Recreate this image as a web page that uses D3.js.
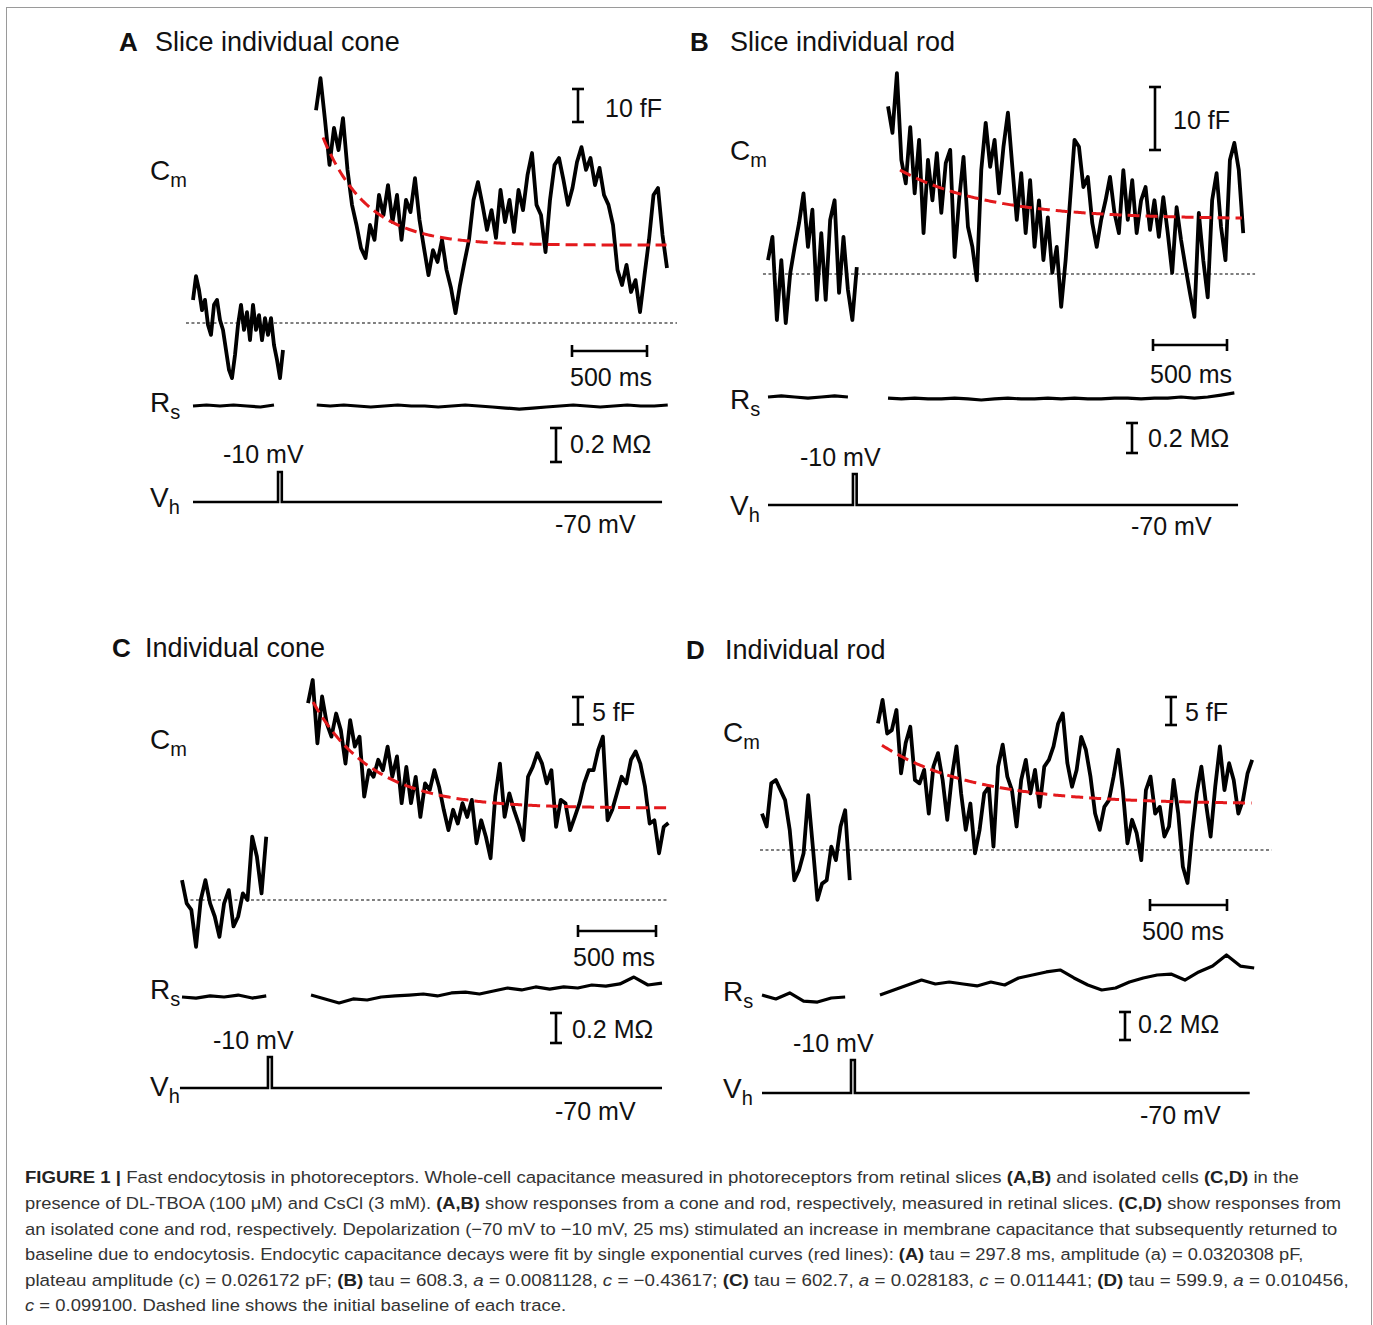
<!DOCTYPE html>
<html>
<head>
<meta charset="utf-8">
<script src="https://cdn.jsdelivr.net/npm/d3@7"></script>
<style>
  body { margin: 0; background: #fff; }
  svg text { font-family: "Liberation Sans", Arial, sans-serif; fill: #111; }
</style>
</head>
<body>
<svg id="fig" width="1373" height="1325"></svg>
<script>
// ---- panel labels ----
const panelLetters = ["A", "B", "C", "D"];
const panelTitles = ["Slice individual cone", "Slice individual rod", "Individual cone", "Individual rod"];
const cmBarFF = [10, 10, 5, 5];
const timeBarMs = 500;
const rsBarMOhm = 0.2;
const holdMV = -70, stepMV = -10, pulseMs = 25;
const pulseStartMs = [567, 574, 551, 578];

// ---- Cm traces (fF relative to initial baseline) ----
const cmPreStartMs = [0, 0, 0, 0];
const cmPreDtMs = [20, 30, 30, 30];
const cmPostStartMs = [820, 811, 808, 753];
const cmPostDtMs = 30;

const aCmPre = [7, 14.2, 10, 3.9, 7, -0.6, -3.6, 5.5, 7, 0.9, -2.1, -8.2, -14.2, -16.7, -9.7, -0.6, 5.5, -2.1, 3.3, -5.2, 5.5, -2.1, 2.4, -5.2, 1.5, -3.6, 1.5, -6.7, -11.2, -16.7, -8.2];
const aCmPost = [64.5, 74.2, 61.5, 47.9, 59.1, 52.4, 62.1, 46.4, 35.8, 29.7, 22.7, 19.7, 29.7, 25.2, 38.8, 32.7, 41.8, 30.6, 38.8, 25.2, 37.3, 33.6, 43.9, 31.2, 22.7, 14.5, 22.1, 18.5, 25.2, 16.1, 10.6, 3.0, 11.5, 18.5, 25.2, 37.3, 42.7, 35.8, 28.2, 34.2, 25.8, 40.3, 30.6, 37.3, 27.6, 40.3, 34.2, 44.8, 51.5, 35.8, 32.7, 21.5, 37.3, 47.9, 50.0, 43.3, 35.8, 40.9, 48.8, 53.3, 46.4, 50.0, 41.8, 47.0, 38.8, 35.8, 29.7, 16.1, 11.5, 17.6, 9.4, 13.0, 3.3, 14.5, 25.2, 38.8, 40.9, 26.7, 16.7];

const bCmPre = [2.2, 5.9, -7.3, 2.2, -7.8, 0.1, 4.3, 8.1, 12.8, 4.3, 10.2, -4.1, 6.5, -4.1, 8.6, 11.7, -3.0, 5.9, -2.5, -7.3, 1.1];
const bCmPost = [26.6, 22.4, 31.9, 18.1, 14.4, 23.3, 12.8, 21.3, 6.5, 18.1, 11.7, 19.2, 9.7, 17.6, 19.7, 2.7, 11.7, 18.6, 7.5, 4.3, -1.0, 16.5, 24.0, 17.0, 21.3, 12.8, 20.2, 25.6, 17.0, 8.6, 16.0, 6.5, 14.9, 4.3, 11.7, 2.2, 9.0, 0.2, 4.3, -5.2, 2.2, 11.7, 21.3, 20.2, 13.8, 15.4, 8.1, 4.3, 8.6, 11.7, 15.4, 9.7, 6.5, 16.5, 8.6, 14.9, 6.5, 11.7, 13.8, 7.0, 11.7, 5.9, 12.2, 6.5, 0.2, 10.6, 5.4, 1.1, -3.0, -6.8, 9.7, 2.2, -3.7, 11.7, 16.0, 7.5, 2.2, 18.1, 20.8, 16.5, 6.5];

const cCmPre = [3.6, -0.6, -1.8, -8.5, 0, 3.6, -0.6, -3.0, -6.7, -0.6, 1.8, -4.8, -3.0, 1.2, 0, 11.5, 7.9, 1.2, 11.5];
const cCmPost = [35.8, 40, 28.5, 37.0, 32.1, 29.7, 33.9, 30.9, 24.8, 32.7, 27.9, 29.7, 18.8, 23.6, 22.4, 25.5, 23.6, 27.9, 22.4, 26.1, 17.6, 24.2, 17.6, 22.4, 15.1, 21.2, 20.0, 23.6, 20.6, 16.4, 12.7, 16.4, 13.9, 17.6, 15.1, 18.2, 10.3, 14.5, 11.5, 7.6, 18.8, 24.8, 15.1, 19.4, 16.4, 13.9, 10.9, 22.4, 24.2, 26.7, 24.8, 21.2, 23.6, 13.3, 18.2, 17.6, 12.7, 15.1, 17.6, 21.2, 23.6, 23.6, 27.3, 29.7, 14.5, 16.4, 19.4, 22.4, 21.2, 25.5, 27.0, 24.8, 20.6, 13.9, 14.5, 8.5, 13.3, 14.0];

const dCmPre = [6.5, 4.2, 11.9, 12.5, 10.7, 8.9, 3.6, -5.4, -3.6, -0.6, 9.8, 0.6, -8.9, -6.0, -5.4, 0.6, -1.8, 4.2, 7.1, -5.4];
const dCmPost = [22.6, 26.8, 20.8, 21.4, 25.0, 13.7, 19.1, 22.0, 12.5, 11.9, 14.3, 6.5, 14.9, 17.3, 12.5, 5.4, 13.1, 18.5, 10.1, 3.6, 8.3, -0.6, 3.6, 10.1, 11.3, 0.6, 14.9, 18.8, 13.1, 10.7, 4.2, 12.5, 16.1, 10.1, 14.3, 7.7, 14.9, 16.1, 18.5, 22.6, 24.4, 15.5, 11.3, 14.3, 20.2, 17.9, 13.1, 6.5, 3.6, 7.7, 8.9, 13.1, 17.9, 10.7, 1.2, 5.4, 3.0, -1.8, 10.7, 13.1, 6.5, 7.7, 2.4, 4.2, 12.5, 6.5, -3.0, -5.9, 3.0, 10.1, 14.9, 8.3, 2.4, 11.3, 18.5, 10.7, 15.5, 12.5, 6.5, 8.9, 13.7, 16.1];

// ---- exponential fits (red dashed) ----
const fitStartMs = [867, 892, 840, 779];
const fitTauMs = [297.8, 608.3, 385, 599.9];
const fitAmpFF = [32.6, 7.8, 19.3, 10.5];
const fitPlateauFF = [23.6, 8.7, 16.7, 8.2];

// ---- Rs traces (MOhm relative) ----
const rsDtMs = 90;
const rsPreStartMs = [0, 0, 0, 0];
const rsPostStartMs = [825, 811, 827, 766];
const aRsPre = [0, 0.006, 0, 0.006, 0, -0.006, 0.006];
const aRsPost = [0.006, 0, 0.006, 0, -0.006, 0, 0.006, 0, 0, -0.006, 0, 0.006, 0, -0.006, -0.012, -0.018, -0.012, -0.006, 0, 0.006, 0, -0.006, 0, 0.006, 0, 0, 0.006];
const bRsPre = [0, 0.007, 0, -0.007, 0, 0.007, 0];
const bRsPost = [-0.007, -0.013, -0.007, -0.013, -0.013, -0.007, -0.013, -0.02, -0.013, -0.007, -0.013, -0.013, -0.007, -0.013, -0.007, -0.013, -0.013, -0.007, -0.007, -0.013, -0.007, -0.007, 0, -0.007, 0, 0.013, 0.027];
const cRsPre = [0, -0.007, 0.007, 0, 0.013, -0.007, 0.007];
const cRsPost = [0.013, -0.013, -0.040, -0.013, -0.020, 0, 0.007, 0.013, 0.020, 0.007, 0.027, 0.033, 0.020, 0.040, 0.060, 0.047, 0.067, 0.053, 0.067, 0.060, 0.080, 0.073, 0.087, 0.133, 0.080, 0.093];
const dRsPre = [0.014, -0.014, 0.029, -0.029, -0.036, -0.007, 0];
const dRsPost = [0.014, 0.05, 0.086, 0.121, 0.093, 0.107, 0.093, 0.079, 0.107, 0.086, 0.136, 0.157, 0.179, 0.193, 0.136, 0.086, 0.05, 0.064, 0.107, 0.136, 0.157, 0.164, 0.121, 0.179, 0.221, 0.3, 0.221, 0.207];

// time extents of the holding-potential line and dotted baseline
const vhSpanMs = [[0, 3127], [0, 3176], [-13, 3077], [0, 3167]];
const baseSpanMs = [[-47, 3227], [-34, 3291], [19, 3115], [-13, 3310]];

const cmPre = [aCmPre, bCmPre, cCmPre, dCmPre];
const cmPost = [aCmPost, bCmPost, cCmPost, dCmPost];
const rsPre = [aRsPre, bRsPre, cRsPre, dRsPre];
const rsPost = [aRsPost, bRsPost, cRsPost, dRsPost];

// ---- layout (pixels) ----
const layout = [
  { x0: 193, msPx: 500 / 75, cmBase: 323, fFpx: 3.3, rsBase: 406, rsPx: 170, vhBase: 502, vhTop: 472,
    letter: [119, 51], title: [155, 51], cm: [150, 180], rs: [150, 412], vh: [150, 507],
    cmBar: [578, 89], cmBarText: [605, 117], tBar: [572, 351], tBarText: [611, 386],
    rsBar: [556, 428], rsBarText: [570, 453], stepText: [223, 463], holdText: [555, 533] },
  { x0: 768, msPx: 500 / 74, cmBase: 274, fFpx: 6.3, rsBase: 397, rsPx: 150, vhBase: 505, vhTop: 474,
    letter: [690, 51], title: [730, 51], cm: [730, 160], rs: [730, 409], vh: [730, 515],
    cmBar: [1155, 87], cmBarText: [1173, 129], tBar: [1153, 345], tBarText: [1191, 383],
    rsBar: [1132, 423], rsBarText: [1148, 447], stepText: [800, 466], holdText: [1131, 535] },
  { x0: 182, msPx: 500 / 78, cmBase: 900, fFpx: 5.5, rsBase: 997, rsPx: 150, vhBase: 1088, vhTop: 1057,
    letter: [112, 657], title: [145, 657], cm: [150, 749], rs: [150, 999], vh: [150, 1096],
    cmBar: [578, 697], cmBarText: [592, 721], tBar: [578, 931], tBarText: [614, 966],
    rsBar: [556, 1013], rsBarText: [572, 1038], stepText: [213, 1049], holdText: [555, 1120] },
  { x0: 762, msPx: 500 / 77, cmBase: 850, fFpx: 5.6, rsBase: 997, rsPx: 140, vhBase: 1093, vhTop: 1060,
    letter: [686, 659], title: [725, 659], cm: [723, 742], rs: [723, 1001], vh: [723, 1098],
    cmBar: [1171, 697], cmBarText: [1185, 721], tBar: [1150, 905], tBarText: [1183, 940],
    rsBar: [1125, 1012], rsBarText: [1138, 1033], stepText: [793, 1052], holdText: [1140, 1124] }
];

const svg = d3.select("#fig");

// figure frame
svg.append("rect")
  .attr("x", 6.5).attr("y", 7.5).attr("width", 1365).attr("height", 1340)
  .attr("fill", "none").attr("stroke", "#9a9a9a").attr("stroke-width", 1);

const series = (vals, start, dt) => vals.map((v, i) => [start + i * dt, v]);

panelLetters.forEach((letter, i) => {
  const L = layout[i];
  const g = svg.append("g");

  const x = d3.scaleLinear().domain([0, 1000]).range([L.x0, L.x0 + 1000 / L.msPx]);
  const yCm = d3.scaleLinear().domain([0, 10]).range([L.cmBase, L.cmBase - 10 * L.fFpx]);
  const yRs = d3.scaleLinear().domain([0, 0.2]).range([L.rsBase, L.rsBase - 0.2 * L.rsPx]);
  const yVh = d3.scaleLinear().domain([holdMV, stepMV]).range([L.vhBase, L.vhTop]);

  // Title
  g.append("text").attr("x", L.letter[0]).attr("y", L.letter[1])
    .attr("font-size", 26).attr("font-weight", "bold").text(letter);
  g.append("text").attr("x", L.title[0]).attr("y", L.title[1])
    .attr("font-size", 27).text(panelTitles[i]);

  // Trace labels with subscripts
  const lab = (pos, main, sub) => {
    const t = g.append("text").attr("x", pos[0]).attr("y", pos[1]).attr("font-size", 28);
    t.append("tspan").text(main);
    t.append("tspan").attr("font-size", 20).attr("dy", 7).text(sub);
  };
  lab(L.cm, "C", "m");
  lab(L.rs, "R", "s");
  lab(L.vh, "V", "h");

  // Dotted initial baseline
  g.append("line")
    .attr("x1", x(baseSpanMs[i][0])).attr("x2", x(baseSpanMs[i][1]))
    .attr("y1", yCm(0)).attr("y2", yCm(0))
    .attr("stroke", "#000").attr("stroke-width", 1.1).attr("stroke-dasharray", "3,2.5");

  // Cm traces
  const cmLine = d3.line().x(d => x(d[0])).y(d => yCm(d[1]));
  [series(cmPre[i], cmPreStartMs[i], cmPreDtMs[i]), series(cmPost[i], cmPostStartMs[i], cmPostDtMs)]
    .forEach(s => {
      g.append("path").datum(s).attr("d", cmLine)
        .attr("fill", "none").attr("stroke", "#000")
        .attr("stroke-width", 3.8).attr("stroke-linejoin", "round");
    });

  // Exponential fit
  const tEnd = cmPostStartMs[i] + (cmPost[i].length - 1) * cmPostDtMs;
  const fit = d3.range(fitStartMs[i], tEnd + 1, 10).map(t =>
    [t, fitPlateauFF[i] + fitAmpFF[i] * Math.exp(-(t - fitStartMs[i]) / fitTauMs[i])]);
  g.append("path").datum(fit).attr("d", cmLine)
    .attr("fill", "none").attr("stroke", "#e3191c")
    .attr("stroke-width", 3).attr("stroke-dasharray", "12,6");

  // Rs traces
  const rsLine = d3.line().x(d => x(d[0])).y(d => yRs(d[1]));
  [series(rsPre[i], rsPreStartMs[i], rsDtMs), series(rsPost[i], rsPostStartMs[i], rsDtMs)]
    .forEach(s => {
      g.append("path").datum(s).attr("d", rsLine)
        .attr("fill", "none").attr("stroke", "#000")
        .attr("stroke-width", 3.2).attr("stroke-linejoin", "round");
    });

  // Holding potential with the -10 mV step
  const p0 = pulseStartMs[i];
  const vh = [[vhSpanMs[i][0], holdMV], [p0, holdMV], [p0, stepMV], [p0 + pulseMs, stepMV],
              [p0 + pulseMs, holdMV], [vhSpanMs[i][1], holdMV]];
  g.append("path").datum(vh)
    .attr("d", d3.line().x(d => x(d[0])).y(d => yVh(d[1])))
    .attr("fill", "none").attr("stroke", "#000").attr("stroke-width", 2.6);

  // Scale bars
  const vBar = (bx, top, len) => {
    g.append("line").attr("x1", bx).attr("x2", bx).attr("y1", top).attr("y2", top + len)
      .attr("stroke", "#000").attr("stroke-width", 2.6);
    [top, top + len].forEach(yy => g.append("line")
      .attr("x1", bx - 6).attr("x2", bx + 6).attr("y1", yy).attr("y2", yy)
      .attr("stroke", "#000").attr("stroke-width", 2.6));
  };
  vBar(L.cmBar[0], L.cmBar[1], yCm(0) - yCm(cmBarFF[i]));
  vBar(L.rsBar[0], L.rsBar[1], yRs(0) - yRs(rsBarMOhm));

  const tLen = x(timeBarMs) - x(0);
  g.append("line").attr("x1", L.tBar[0]).attr("x2", L.tBar[0] + tLen)
    .attr("y1", L.tBar[1]).attr("y2", L.tBar[1])
    .attr("stroke", "#000").attr("stroke-width", 2.6);
  [L.tBar[0], L.tBar[0] + tLen].forEach(xx => g.append("line")
    .attr("x1", xx).attr("x2", xx).attr("y1", L.tBar[1] - 6).attr("y2", L.tBar[1] + 6)
    .attr("stroke", "#000").attr("stroke-width", 2.6));

  // Scale-bar and voltage annotations
  const txt = (pos, s, anchor) => g.append("text").attr("x", pos[0]).attr("y", pos[1])
    .attr("font-size", 25).attr("text-anchor", anchor || "start").text(s);
  txt(L.cmBarText, cmBarFF[i] + " fF");
  txt(L.tBarText, timeBarMs + " ms", "middle");
  txt(L.rsBarText, rsBarMOhm + " MΩ");
  txt(L.stepText, stepMV + " mV");
  txt(L.holdText, holdMV + " mV");
});

// ---- caption ----
const captionLines = [
  [["FIGURE 1 | ", "b"], ["Fast endocytosis in photoreceptors. Whole-cell capacitance measured in photoreceptors from retinal slices "], ["(A,B)", "b"], [" and isolated cells "], ["(C,D)", "b"], [" in the"]],
  [["presence of DL-TBOA (100 μM) and CsCl (3 mM). "], ["(A,B)", "b"], [" show responses from a cone and rod, respectively, measured in retinal slices. "], ["(C,D)", "b"], [" show responses from"]],
  [["an isolated cone and rod, respectively. Depolarization (−70 mV to −10 mV, 25 ms) stimulated an increase in membrane capacitance that subsequently returned to"]],
  [["baseline due to endocytosis. Endocytic capacitance decays were fit by single exponential curves (red lines): "], ["(A)", "b"], [" tau = 297.8 ms, amplitude (a) = 0.0320308 pF,"]],
  [["plateau amplitude (c) = 0.026172 pF; "], ["(B)", "b"], [" tau = 608.3, "], ["a", "i"], [" = 0.0081128, "], ["c", "i"], [" = −0.43617; "], ["(C)", "b"], [" tau = 602.7, "], ["a", "i"], [" = 0.028183, "], ["c", "i"], [" = 0.011441; "], ["(D)", "b"], [" tau = 599.9, "], ["a", "i"], [" = 0.010456,"]],
  [["c", "i"], [" = 0.099100. Dashed line shows the initial baseline of each trace."]]
];
const captionY = [1183, 1209, 1235, 1260, 1286, 1311];
const captionRight = [1300, 1342, 1338, 1304, 1350, null];

let scales = [];
captionLines.forEach((parts, k) => {
  const t = svg.append("text").attr("x", 0).attr("y", 0)
    .attr("font-size", 17).style("fill", "#333");
  parts.forEach(p => {
    const ts = t.append("tspan").text(p[0]).style("fill", "#333");
    if (p[1] === "b") ts.attr("font-weight", "bold").style("fill", "#222");
    if (p[1] === "i") ts.attr("font-style", "italic");
  });
  const w = t.node().getComputedTextLength();
  const sx = captionRight[k] ? (captionRight[k] - 25) / w : d3.mean(scales);
  if (captionRight[k]) scales.push(sx);
  t.attr("transform", `translate(25,${captionY[k]}) scale(${sx},1)`);
});
</script>
</body>
</html>
